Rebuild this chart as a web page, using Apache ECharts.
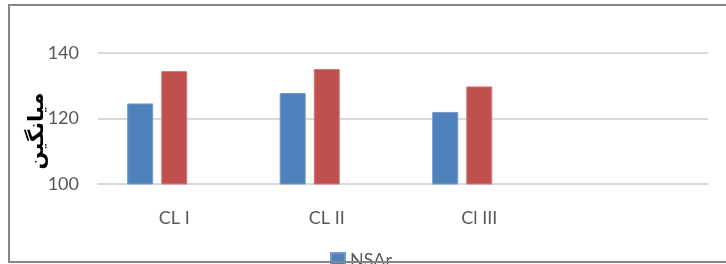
<!DOCTYPE html>
<html>
<head>
<meta charset="utf-8">
<script src="https://cdn.jsdelivr.net/npm/echarts@6/dist/echarts.min.js"></script>
<style>
  html, body { margin: 0; padding: 0; background: #fff; }
  #chart { width: 726px; height: 264px; }
</style>
</head>
<body>
<div id="chart"></div>
<script>
// values
const categories = ["CL I", "CL II", "Cl III", ""];
const nsarValues = [124.6, 127.8, 122.0, null];
const secondValues = [134.5, 135.1, 129.8, null];
const thirdValues = [null, null, null, null];
const yTicks = { min: 100, max: 140, interval: 20 };
const yTitle = "میانگین";

const labelFont = "Lato, 'Liberation Sans', sans-serif";

const chart = echarts.init(document.getElementById("chart"), null, { renderer: "canvas" });

chart.setOption({
  animation: false,
  grid: { left: 98, right: 18, top: 53, bottom: 80 },
  legend: {
    data: ["NSAr"],
    icon: "rect",
    left: 325,
    top: 246,
    itemWidth: 14,
    itemHeight: 14,
    itemGap: 8,
    textStyle: { color: "#595959", fontSize: 18, fontFamily: labelFont }
  },
  xAxis: {
    type: "category",
    data: categories,
    axisLine: { lineStyle: { color: "#d9d9d9", width: 2 } },
    axisTick: { show: false },
    axisLabel: { color: "#595959", fontSize: 18, fontFamily: labelFont, margin: 25 }
  },
  yAxis: {
    type: "value",
    min: yTicks.min,
    max: yTicks.max,
    interval: yTicks.interval,
    axisLine: { show: false },
    axisTick: { show: false },
    axisLabel: { color: "#595959", fontSize: 18, fontFamily: labelFont, margin: 19 },
    splitLine: { lineStyle: { color: "#d9d9d9", width: 2 } }
  },
  series: [
    {
      name: "NSAr",
      type: "bar",
      data: nsarValues,
      barWidth: 26,
      barGap: "31%",
      itemStyle: { color: "#4f81bd", borderColor: "#7399cc", borderWidth: 1 }
    },
    {
      name: "S2",
      type: "bar",
      data: secondValues,
      barWidth: 26,
      barGap: "31%",
      itemStyle: { color: "#c0504d", borderColor: "#d47a78", borderWidth: 1 }
    },
    {
      name: "S3",
      type: "bar",
      data: thirdValues,
      barWidth: 26,
      barGap: "31%",
      itemStyle: { color: "#9bbb59" }
    }
  ],
  graphic: [
    {
      type: "text",
      x: 38,
      y: 131,
      rotation: Math.PI / 2,
      style: {
        text: yTitle,
        fill: "#000",
        font: "bold 21px 'DejaVu Sans', sans-serif",
        align: "center",
        verticalAlign: "middle"
      }
    },
    {
      type: "rect",
      z: 100,
      shape: { x: 9, y: 5, width: 800, height: 257 },
      style: { fill: null, stroke: "#868686", lineWidth: 2 }
    }
  ]
});
</script>
</body>
</html>
